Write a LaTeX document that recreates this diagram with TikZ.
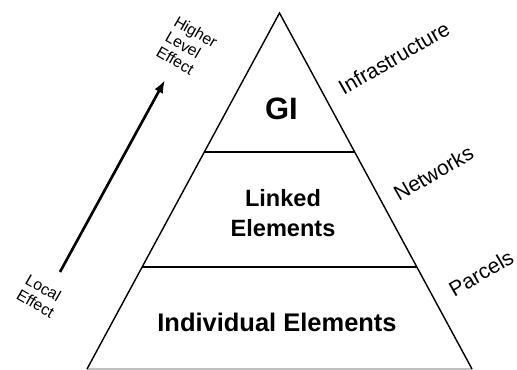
\documentclass[tikz,border=0pt]{standalone}
\usepackage{fontspec}
\setmainfont{Liberation Sans}
\usetikzlibrary{calc,arrows.meta}

\tikzset{
  level/.style={font=\bfseries, align=center},
  side/.style={font=\fontsize{12}{14}\selectfont, rotate=30},
  effect/.style={font=\fontsize{9}{10}\selectfont, align=left, rotate=-30},
}

\begin{document}
\begin{tikzpicture}
  \useasboundingbox (0,0) rectangle (10.34,7.4);
  % Corners of the pyramid
  \coordinate (apex) at (5.59,7.14);
  \coordinate (bl)   at (1.74,0.02);
  \coordinate (br)   at (9.44,0.02);
  \coordinate (l1) at ($(apex)!0.39!(bl)$);
  \coordinate (r1) at ($(apex)!0.39!(br)$);
  \coordinate (l2) at ($(apex)!0.713!(bl)$);
  \coordinate (r2) at ($(apex)!0.713!(br)$);

  % Draw pyramid
  \draw[black!25, line width=.6pt] (bl) -- (br);
  \draw[line width=.8pt] (bl) -- (apex) -- (br);
  \draw[line width=.8pt] (l1) -- (r1);
  \draw[line width=.8pt] (l2) -- (r2);

  % Layers
  \node (gi)         [level, font=\bfseries\fontsize{17.6}{20}\selectfont] at (5.63,5.22) {GI};
  \node (linked)     [level, font=\bfseries\fontsize{13.4}{17}\selectfont] at (5.66,3.13) {Linked\\Elements};
  \node (individual) [level, font=\bfseries\fontsize{14.5}{17}\selectfont] at (5.54,0.95) {Individual Elements};

  % Labels on the right
  \node (infra)    [side] at (7.88,6.24) {Infrastructure};
  \node (networks) [side] at (8.67,3.94) {Networks};
  \node (parcels)  [side] at (9.62,1.94) {Parcels};

  % Draw arrow
  \node (higher) [effect] at (3.74,6.46) {Higher\\Level\\Effect};
  \node (local)  [effect] at (0.80,1.48) {Local\\Effect};
  \coordinate (tail) at (1.2,1.96);
  \coordinate (head) at (3.3,5.8);
  \draw[line width=1.5pt, -{Latex[length=2.6mm,width=1.9mm]}] (tail) -- (head);
\end{tikzpicture}
\end{document}
